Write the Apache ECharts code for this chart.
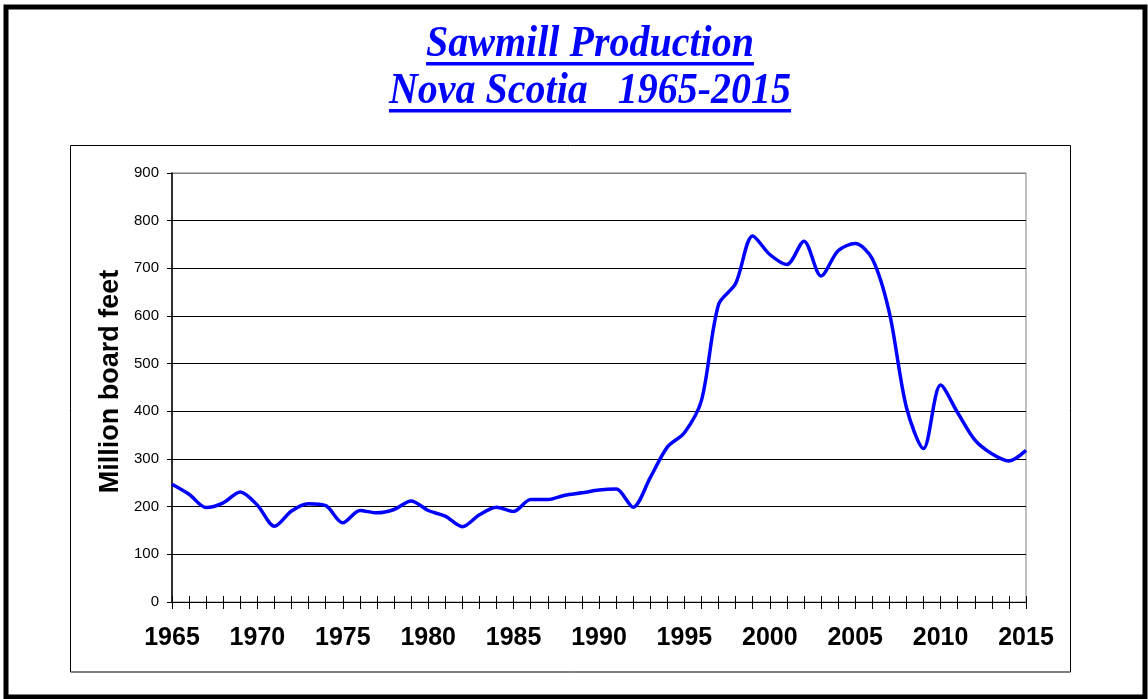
<!DOCTYPE html>
<html>
<head>
<meta charset="utf-8">
<script src="https://cdn.jsdelivr.net/npm/echarts@6/dist/echarts.min.js"></script>
<style>
html,body{margin:0;padding:0;background:#fff;}
#chart{width:1148px;height:699px;}
</style>
</head>
<body>
<div id="chart"></div>
<script>
var titleLines = ['Sawmill Production', 'Nova Scotia   1965-2015'];
var yAxisTitle = 'Million board feet';
var years = [1965,1966,1967,1968,1969,1970,1971,1972,1973,1974,1975,1976,1977,1978,1979,1980,1981,1982,1983,1984,1985,1986,1987,1988,1989,1990,1991,1992,1993,1994,1995,1996,1997,1998,1999,2000,2001,2002,2003,2004,2005,2006,2007,2008,2009,2010,2011,2012,2013,2014,2015];
var production = [247,226,198,208,231,203,159,191,206,202,166,192,187,194,212,192,180,158,183,199,190,215,215,224,229,235,237,199,261,325,355,423,624,668,768,729,708,757,684,737,752,720,607,408,322,455,397,340,311,296,318];
var yMin = 0, yMax = 900, yStep = 100;
var xMin = 1965, xMax = 2015, xLabelStep = 5;

var seriesData = years.map(function (y, i) { return [y, production[i]]; });

var chart = echarts.init(document.getElementById('chart'));

var titleFont = 'italic bold 40px "Liberation Serif"';
var cv = document.createElement('canvas').getContext('2d');
cv.font = titleFont;
var w1 = cv.measureText(titleLines[0]).width;
var w2 = cv.measureText(titleLines[1]).width;
var cx = 590;

var splitColors = [];
for (var v = yMin; v <= yMax; v += yStep) splitColors.push(v === yMax ? '#808080' : '#000000');

chart.setOption({
  animation: false,
  grid: {
    left: 172, top: 173, width: 854, height: 429,
    show: true, borderColor: '#808080', borderWidth: 1, backgroundColor: 'transparent'
  },
  xAxis: [{
    type: 'value', min: xMin, max: xMax, interval: 1, position: 'bottom',
    axisLine: { show: true, lineStyle: { color: '#000', width: 1 } },
    axisTick: { show: true, inside: false, length: 7, lineStyle: { color: '#000', width: 1 } },
    axisLabel: {
      show: true, margin: 24, color: '#000', fontFamily: 'Arial, "Liberation Sans"', fontWeight: 'bold', fontSize: 25,
      showMinLabel: true, showMaxLabel: true,
      formatter: function (val) { return (val - xMin) % xLabelStep === 0 ? String(val) : ''; }
    },
    splitLine: { show: false }
  }, {
    type: 'value', min: xMin, max: xMax, interval: 1, position: 'bottom',
    axisLine: { show: false },
    axisTick: { show: true, inside: true, length: 6, lineStyle: { color: '#000', width: 1 } },
    axisLabel: { show: false },
    splitLine: { show: false }
  }],
  yAxis: {
    type: 'value', min: yMin, max: yMax, interval: yStep,
    axisLine: { show: true, lineStyle: { color: '#000', width: 1.5 } },
    axisTick: { show: true, inside: false, length: 5, lineStyle: { color: '#000', width: 1 } },
    axisLabel: { margin: 13, color: '#000', fontFamily: 'Arial, "Liberation Sans"', fontSize: 15 },
    splitLine: { show: true, lineStyle: { color: splitColors, width: 1 } }
  },
  series: [{
    type: 'line', xAxisIndex: 0, yAxisIndex: 0,
    data: seriesData,
    smooth: 0.3,
    showSymbol: false,
    lineStyle: { color: '#0000ff', width: 3.5 },
    z: 5
  }],
  graphic: [
    { type: 'rect', shape: { x: 6, y: 7, width: 1139, height: 690 }, style: { fill: 'none', stroke: '#000', lineWidth: 5 }, silent: true },
    { type: 'rect', shape: { x: 70.5, y: 145.5, width: 1000, height: 526.5 }, style: { fill: 'none', stroke: '#000', lineWidth: 1 }, silent: true, z: -1 },
    { type: 'text', x: cx, y: 45, scaleY: 1.1, style: { text: titleLines[0], font: titleFont, fill: '#0000ff', align: 'center', verticalAlign: 'middle' } },
    { type: 'text', x: cx, y: 92, scaleY: 1.1, style: { text: titleLines[1], font: titleFont, fill: '#0000ff', align: 'center', verticalAlign: 'middle' } },
    { type: 'rect', shape: { x: cx - w1 / 2, y: 62, width: w1, height: 3.5 }, style: { fill: '#0000ff' } },
    { type: 'rect', shape: { x: cx - w2 / 2, y: 109, width: w2, height: 3.5 }, style: { fill: '#0000ff' } },
    { type: 'text', x: 111, y: 381.5, rotation: Math.PI / 2,
      style: { text: yAxisTitle, font: 'bold 27px Arial, "Liberation Sans"', fill: '#000', align: 'center', verticalAlign: 'middle' } }
  ]
});
</script>
</body>
</html>
